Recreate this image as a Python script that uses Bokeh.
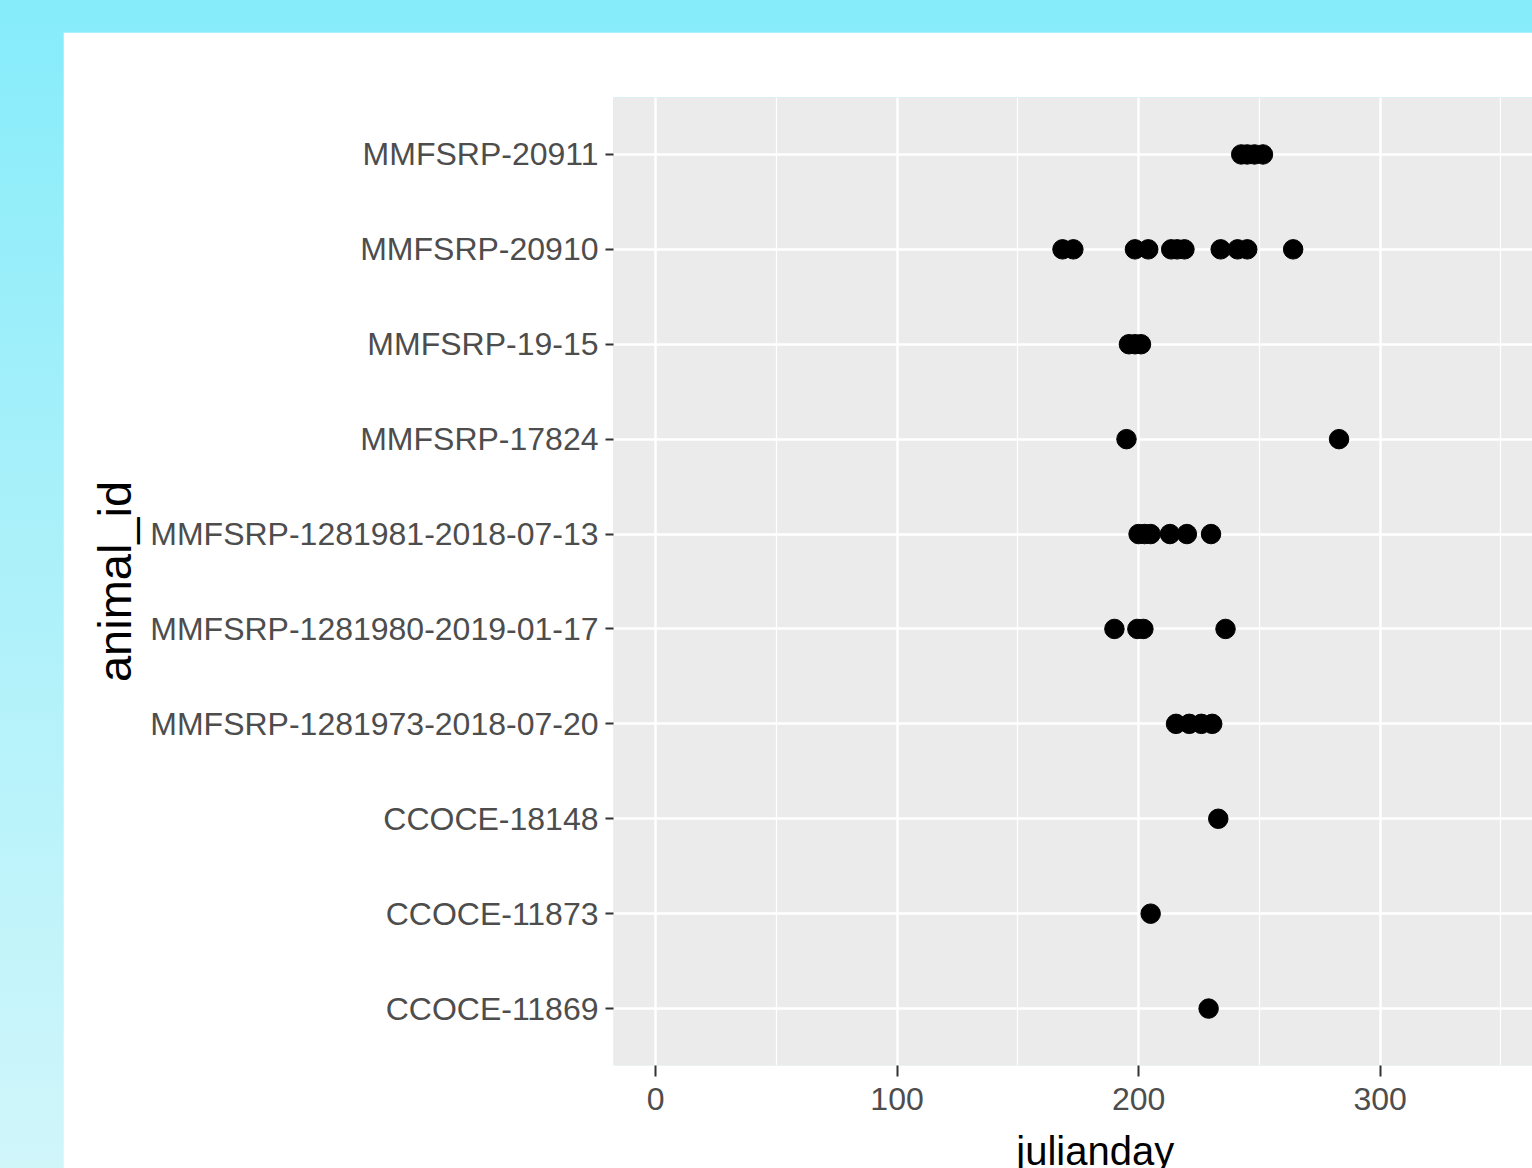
from bokeh.plotting import figure
from bokeh.models import Range1d, FactorRange, FixedTicker
from bokeh.layouts import column
from bokeh.embed import file_html
from bokeh.resources import INLINE

# categories, bottom to top
animals = [
    "CCOCE-11869",
    "CCOCE-11873",
    "CCOCE-18148",
    "MMFSRP-1281973-2018-07-20",
    "MMFSRP-1281980-2019-01-17",
    "MMFSRP-1281981-2018-07-13",
    "MMFSRP-17824",
    "MMFSRP-19-15",
    "MMFSRP-20910",
    "MMFSRP-20911",
]

# julian day observations per animal
ccoce_11869 = [229]
ccoce_11873 = [205]
ccoce_18148 = [233]
mmfsrp_1281973 = [215.5, 221, 226, 230.5]
mmfsrp_1281980 = [190, 199.5, 202, 236]
mmfsrp_1281981 = [200, 202.5, 205, 213, 220, 230]
mmfsrp_17824 = [195, 283]
mmfsrp_19_15 = [196, 198.5, 201]
mmfsrp_20910 = [168.5, 173, 198.5, 204, 213.5, 216, 219, 234, 241, 245, 264]
mmfsrp_20911 = [242.5, 245, 248, 251.5]

series = [ccoce_11869, ccoce_11873, ccoce_18148, mmfsrp_1281973, mmfsrp_1281980,
          mmfsrp_1281981, mmfsrp_17824, mmfsrp_19_15, mmfsrp_20910, mmfsrp_20911]

x_ticks = [0, 100, 200, 300]
x_minor = [50, 150, 250, 350]

xs, ys = [], []
for name, vals in zip(animals, series):
    xs += vals
    ys += [name] * len(vals)

FONT = "Liberation Sans"

p = figure(
    width=1469, height=1160,
    x_range=Range1d(-17.4, 363.1),
    y_range=FactorRange(factors=animals, range_padding=0.1, range_padding_units="absolute"),
    output_backend="svg", toolbar_location=None,
    min_border_left=550, min_border_right=0, min_border_top=65, min_border_bottom=127,
    margin=(32, 0, 0, 63),
)
p.background_fill_color = "#EBEBEB"
p.border_fill_color = "white"
p.outline_line_color = None

p.xaxis.ticker = FixedTicker(ticks=x_ticks, minor_ticks=x_minor)
p.xgrid.grid_line_color = "white"
p.xgrid.grid_line_width = 2.5
p.xgrid.minor_grid_line_color = "white"
p.xgrid.minor_grid_line_width = 1.2
p.ygrid.grid_line_color = "white"
p.ygrid.grid_line_width = 2.5

for ax in (p.xaxis, p.yaxis):
    ax.axis_line_color = None
    ax.major_tick_line_color = "#333333"
    ax.major_tick_line_width = 2
    ax.major_tick_in = 0
    ax.minor_tick_line_color = None
    ax.major_label_text_font = FONT
    ax.major_label_text_font_size = "32px"
    ax.major_label_text_color = "#4D4D4D"
    ax.axis_label_text_font = FONT
    ax.axis_label_text_font_style = "normal"
    ax.axis_label_text_color = "black"

p.xaxis.major_tick_out = 11
p.xaxis.major_label_standoff = 11
p.yaxis.major_tick_out = 8
p.yaxis.major_label_standoff = 7

p.yaxis.axis_label = "animal_id"
p.yaxis.axis_label_text_font_size = "47px"
p.yaxis.axis_label_standoff = 6

# leading no-break spaces shift the centred title right, as in the reference
p.xaxis.axis_label = "\u00a0\u00a0\u00a0\u00a0julianday"
p.xaxis.axis_label_text_font_size = "40px"
p.xaxis.axis_label_standoff = 16

p.scatter(xs, ys, size=19.5, color="black")

layout = column(
    p,
    styles={
        "position": "absolute",
        "left": "0px",
        "top": "0px",
        "width": "1532px",
        "height": "1168px",
        "overflow": "hidden",
        "background": "linear-gradient(to bottom, #86ECFA 0%, #A6F0FA 40%, #D0F6FA 100%)",
    },
)

open("out.html", "w").write(file_html(layout, INLINE))
